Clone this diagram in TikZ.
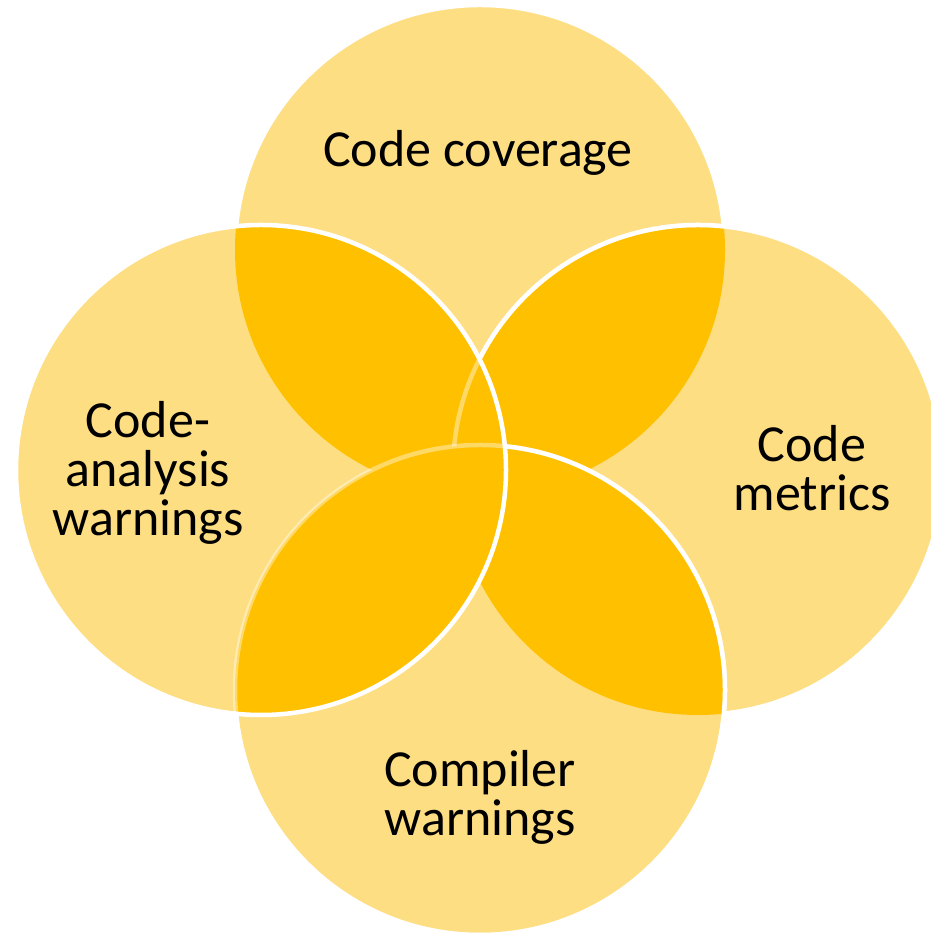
\documentclass[tikz,border=0pt]{standalone}
\usepackage{fontspec}
\setmainfont{Carlito}
\definecolor{lightY}{RGB}{254,222,130}
\definecolor{darkY}{RGB}{255,192,0}
\begin{document}
\begin{tikzpicture}[x=1pt,y=1pt,
  crisp/.style={draw=white,line width=4.5pt},
  faint/.style={draw=white,draw opacity=0.4,line width=4.5pt},
  label/.style={font=\fontsize{52}{49}\selectfont,align=center,text=black,inner sep=0pt}]
\useasboundingbox (0,0) rectangle (930,936);
\def\rr{245pt}
\coordinate (T) at (480,686);
\coordinate (L) at (261,466);
\coordinate (R) at (698,466);
\coordinate (B) at (480,246);
% light fills
\foreach \c in {T,L,R,B} \fill[lightY] (\c) circle[radius=\rr];
% dark overlaps
\begin{scope}
  \clip (T) circle[radius=\rr];
  \fill[darkY] (L) circle[radius=\rr];
  \fill[darkY] (R) circle[radius=\rr];
  \fill[darkY] (B) circle[radius=\rr];
\end{scope}
\begin{scope}
  \clip (L) circle[radius=\rr];
  \fill[darkY] (R) circle[radius=\rr];
  \fill[darkY] (B) circle[radius=\rr];
\end{scope}
\begin{scope}
  \clip (R) circle[radius=\rr];
  \fill[darkY] (B) circle[radius=\rr];
\end{scope}
% top circle outline (only against background)
\begin{scope}
  \clip (-100,-100) rectangle (1100,1100) (L) circle[radius=\rr];
  \clip (-100,-100) rectangle (1100,1100) (R) circle[radius=\rr];
  \draw[crisp] (T) circle[radius=\rr];
\end{scope}
% right circle outline
\begin{scope}
  \clip (-100,-100) rectangle (1100,1100) (B) circle[radius=\rr];
  \draw[faint] (R) circle[radius=\rr];
  \clip (-100,-100) rectangle (1100,1100) (L) circle[radius=\rr];
  \draw[crisp] (R) circle[radius=\rr];
\end{scope}
% bottom circle outline
\draw[faint] (B) circle[radius=\rr];
\begin{scope}
  \clip (-100,-100) rectangle (1100,1100) (L) circle[radius=\rr];
  \draw[crisp] (B) circle[radius=\rr];
\end{scope}
% left circle outline
\draw[crisp] (L) circle[radius=\rr];
% labels
\node[label] (ncov) at (478,783) {Code coverage};
\node[label] (nana) at (148,463) {Code-\\analysis\\warnings};
\node[label] (nmet) at (812,468) {Code\\metrics};
\node[label] (ncomp) at (480,139) {Compiler\\warnings};
\end{tikzpicture}
\end{document}
